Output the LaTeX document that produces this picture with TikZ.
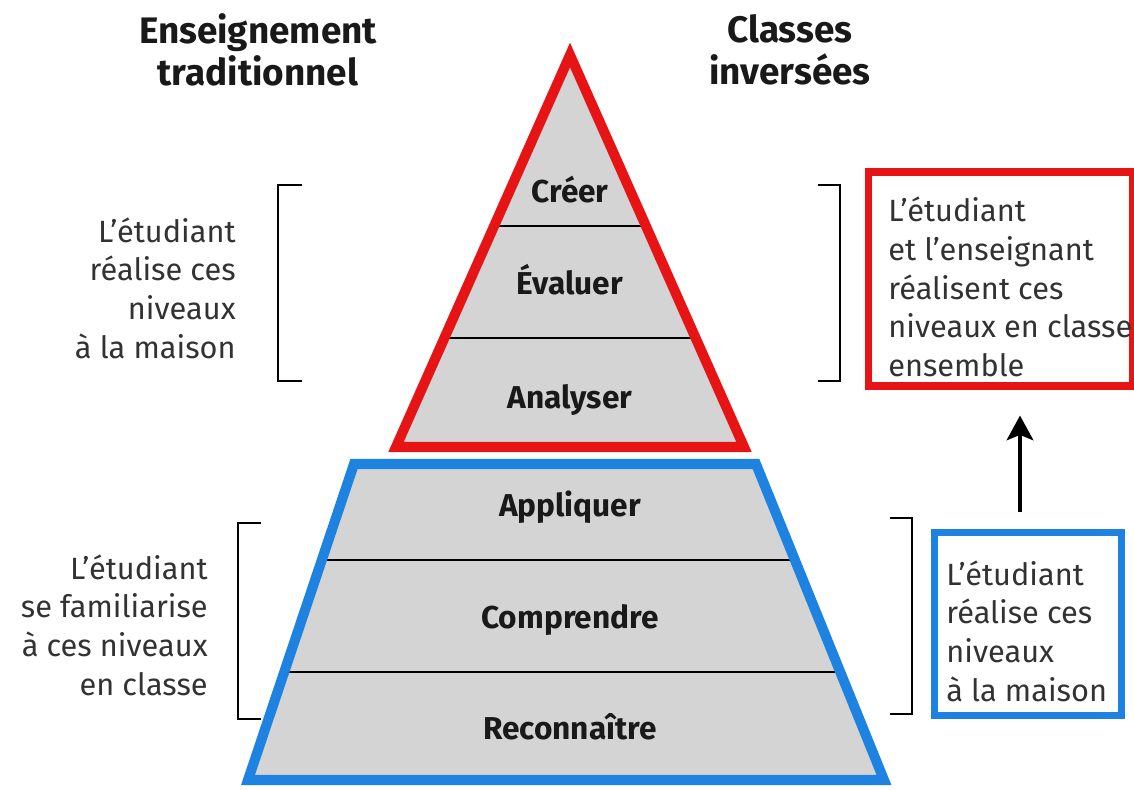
\documentclass[tikz,border=0pt]{standalone}
\usepackage{fontspec}
\setmainfont{Fira Sans}
\usetikzlibrary{arrows.meta,calc,positioning}
\definecolor{pyrred}{RGB}{230,20,20}
\definecolor{pyrblue}{RGB}{30,130,225}
\definecolor{pyrgray}{RGB}{212,212,212}
\definecolor{notegray}{RGB}{50,50,50}

\begin{document}
\begin{tikzpicture}[x=0.02cm,y=-0.02cm,
	titre/.style={font=\bfseries\fontsize{21}{23.8}\selectfont, align=center, text=black!90},
	niveau/.style={font=\bfseries\fontsize{18}{20}\selectfont, text=black!90},
	note/.style={font=\fontsize{17.5}{22}\selectfont, text=notegray, inner sep=0pt},
	divider/.style={draw=black, line width=0.9pt},
	crochet/.style={draw=black, line width=1.1pt},
	fleche/.style={-{Stealth[length=14pt, width=15pt, inset=3pt]}, line width=2.8pt}]
	\useasboundingbox (0,0) rectangle (1134,790);

	% sommet de la pyramide
	\coordinate (S) at (570,55);
	\coordinate (RL) at (396,447);
	\coordinate (RR) at (744,447);
	\fill[pyrgray] (S) -- (RL) -- (RR) -- cycle;
	\draw[divider] ($(S)!0.436!(RL)$) -- ($(S)!0.436!(RR)$);
	\draw[divider] ($(S)!0.722!(RL)$) -- ($(S)!0.722!(RR)$);
	\draw[pyrred, line width=5.7pt] (S) -- (RL) -- (RR) -- cycle;

	% base de la pyramide
	\coordinate (TL) at (354,464);
	\coordinate (TR) at (756,464);
	\coordinate (BL) at (248,780);
	\coordinate (BR) at (884,780);
	\fill[pyrgray] (TL) -- (TR) -- (BR) -- (BL) -- cycle;
	\draw[divider] ($(TL)!0.304!(BL)$) -- ($(TR)!0.304!(BR)$);
	\draw[divider] ($(TL)!0.658!(BL)$) -- ($(TR)!0.658!(BR)$);
	\draw[pyrblue, line width=5.7pt] (TL) -- (TR) -- (BR) -- (BL) -- cycle;

	\node[niveau] (creer) at (570,190) {Créer};
	\node[niveau] (evaluer) at (570,280) {Évaluer};
	\node[niveau] (analyser) at (570,400) {Analyser};
	\node[niveau] (appliquer) at (570,507) {Appliquer};
	\node[niveau] (comprendre) at (570,620) {Comprendre};
	\node[niveau] (reconnaitre) at (570,727) {Reconnaître};

	\node[titre] (trad) at (258,50) {Enseignement\\traditionnel};
	\node[titre] (inv) at (790,50) {Classes\\inversées};

	% crochets
	\draw[crochet] (302,185) -- (278,185) -- (278,381) -- (302,381);
	\draw[crochet] (261,523) -- (238,523) -- (238,719) -- (261,719);
	\draw[crochet] (818,185) -- (840,185) -- (840,381) -- (818,381);
	\draw[crochet] (890,518) -- (912,518) -- (912,714) -- (890,714);

	\node[note, align=right, anchor=east] (maisonG) at (236,288)
		{L’étudiant\\réalise ces\\niveaux\\à la maison};
	\node[note, align=right, anchor=east] (classeG) at (208,625)
		{L’étudiant\\se familiarise\\à ces niveaux\\en classe};

	% encadres de droite
	\node[draw=pyrred, line width=4.5pt, minimum width=150.3pt, minimum height=121.3pt] (rouge) at (1000.5,279) {};
	\node[draw=pyrblue, line width=4pt, minimum width=106.6pt, minimum height=104.3pt] (bleu) at (1028,624) {};
	\node[note, align=left, anchor=west] (ensemble) at (888,287)
		{L’étudiant\\et l’enseignant\\réalisent ces\\niveaux en classe\\ensemble};
	\node[note, align=left, anchor=west] (maisonD) at (946,631)
		{L’étudiant\\réalise ces\\niveaux\\à la maison};

	\draw[fleche, shorten <=0.34cm, shorten >=0.52cm]
		([xshift=-0.16cm]bleu.north) -- ([xshift=-0.16cm]bleu.north |- rouge.south);
\end{tikzpicture}
\end{document}
